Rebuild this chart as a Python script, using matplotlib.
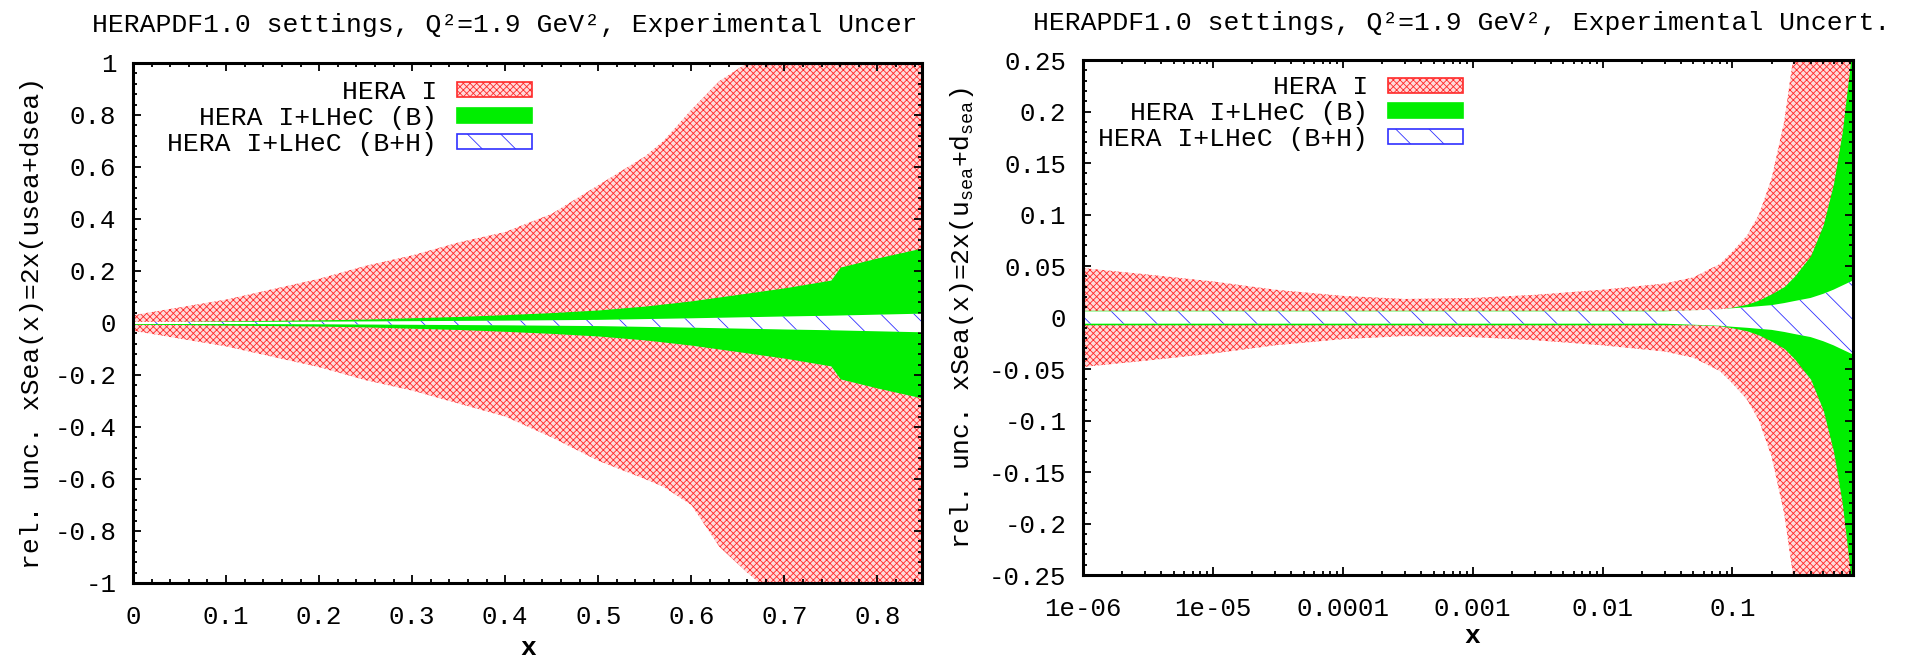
import matplotlib
matplotlib.use('Agg')
import matplotlib.pyplot as plt
from matplotlib.patches import Patch
from matplotlib.ticker import MultipleLocator, LogLocator, NullFormatter

plt.rcParams['font.family'] = ['Liberation Mono', 'DejaVu Sans Mono']
plt.rcParams['mathtext.fontset'] = 'custom'
plt.rcParams['mathtext.rm'] = 'Liberation Mono'
plt.rcParams['mathtext.it'] = 'Liberation Mono'
plt.rcParams['hatch.linewidth'] = 0.6

# ---- left panel: linear x ----
x_lin = [0, 0.05, 0.1, 0.15, 0.2, 0.25, 0.3, 0.35, 0.4, 0.45, 0.5, 0.55,
         0.57, 0.6, 0.63, 0.66, 0.68, 0.7, 0.75, 0.8, 0.85]
hera_up_lin = [0.03, 0.06, 0.09, 0.13, 0.17, 0.22, 0.26, 0.31, 0.35, 0.42, 0.53, 0.64,
               0.70, 0.82, 0.93, 1.0, 1.1, 1.2, 1.4, 1.6, 1.8]
hera_lo_lin = [-0.03, -0.06, -0.09, -0.13, -0.17, -0.22, -0.26, -0.31, -0.36, -0.44, -0.53, -0.6,
               -0.63, -0.7, -0.86, -0.96, -1.02, -1.1, -1.3, -1.5, -1.7]

x_lin_b = [0, 0.05, 0.1, 0.15, 0.2, 0.25, 0.3, 0.35, 0.4, 0.45, 0.5, 0.55,
           0.6, 0.65, 0.7, 0.75, 0.76, 0.8, 0.85]
lhec_b_lin = [0.005, 0.006, 0.008, 0.01, 0.012, 0.015, 0.02, 0.025, 0.032, 0.04, 0.05, 0.065,
              0.085, 0.11, 0.135, 0.165, 0.215, 0.25, 0.29]

x_lin_bh = [0, 0.1, 0.2, 0.3, 0.4, 0.5, 0.6, 0.7, 0.75, 0.8, 0.85]
lhec_bh_lin = [0.004, 0.004, 0.005, 0.007, 0.009, 0.012, 0.018, 0.025, 0.028, 0.032, 0.036]

# ---- right panel: log x ----
x_log = [1e-6, 3e-6, 1e-5, 3e-5, 1e-4, 3e-4, 1e-3, 3e-3, 1e-2, 3e-2, 0.05, 0.08,
         0.1, 0.13, 0.16, 0.2, 0.25, 0.3, 0.4, 0.5, 0.6, 0.7, 0.85]
hera_up_log = [0.048, 0.042, 0.035, 0.027, 0.021, 0.018, 0.019, 0.022, 0.027, 0.033, 0.039, 0.052,
               0.064, 0.08, 0.1, 0.135, 0.19, 0.26, 0.4, 0.5, 0.6, 0.7, 0.8]
hera_lo_log = [-0.048, -0.042, -0.035, -0.027, -0.021, -0.018, -0.019, -0.022, -0.027, -0.033, -0.039, -0.052,
               -0.064, -0.08, -0.1, -0.135, -0.19, -0.26, -0.4, -0.5, -0.6, -0.7, -0.8]
lhec_b_log = [0.007, 0.007, 0.007, 0.007, 0.007, 0.007, 0.007, 0.007, 0.007, 0.007, 0.007, 0.008,
              0.01, 0.013, 0.017, 0.023, 0.03, 0.04, 0.06, 0.09, 0.13, 0.18, 0.27]
lhec_bh_log = [0.006, 0.006, 0.006, 0.006, 0.006, 0.006, 0.006, 0.006, 0.006, 0.006, 0.007, 0.008,
               0.009, 0.01, 0.011, 0.012, 0.014, 0.016, 0.019, 0.023, 0.027, 0.031, 0.036]

labels = ['HERA I', 'HERA I+LHeC (B)', 'HERA I+LHeC (B+H)']
lin_yticks = [-1, -0.8, -0.6, -0.4, -0.2, 0, 0.2, 0.4, 0.6, 0.8, 1]
lin_yticklabels = ['-1', '-0.8', '-0.6', '-0.4', '-0.2', '0', '0.2', '0.4', '0.6', '0.8', '1']
lin_xticks = [0, 0.1, 0.2, 0.3, 0.4, 0.5, 0.6, 0.7, 0.8]
lin_xticklabels = ['0', '0.1', '0.2', '0.3', '0.4', '0.5', '0.6', '0.7', '0.8']
log_yticks = [-0.25, -0.2, -0.15, -0.1, -0.05, 0, 0.05, 0.1, 0.15, 0.2, 0.25]
log_yticklabels = ['-0.25', '-0.2', '-0.15', '-0.1', '-0.05', '0', '0.05', '0.1', '0.15', '0.2', '0.25']
log_xticks = [1e-6, 1e-5, 1e-4, 1e-3, 1e-2, 1e-1]
log_xticklabels = ['1e-06', '1e-05', '0.0001', '0.001', '0.01', '0.1']

RED = '#ff2a2a'
RED_FACE = '#ffdada'
GREEN = '#00ee00'
BLUE = '#3030ff'

fig = plt.figure(figsize=(19.17, 6.63), dpi=100)
ax1 = fig.add_axes([0.0694, 0.1207, 0.4116, 0.7843])
ax2 = fig.add_axes([0.565, 0.1327, 0.4017, 0.7768])


def draw_bands(ax, xh, up, lo, xb, b, xbh, bh):
    ax.fill_between(xh, lo, up, facecolor=RED_FACE, edgecolor=RED, hatch='xxxxx', linewidth=0, zorder=1)
    ax.fill_between(xb, [-v for v in b], b, facecolor=GREEN, edgecolor=GREEN, linewidth=0, zorder=2)
    ax.fill_between(xbh, [-v for v in bh], bh, facecolor='white', edgecolor=BLUE, hatch='\\', linewidth=0, zorder=3)


draw_bands(ax1, x_lin, hera_up_lin, hera_lo_lin, x_lin_b, lhec_b_lin, x_lin_bh, lhec_bh_lin)
draw_bands(ax2, x_log, hera_up_log, hera_lo_log, x_log, lhec_b_log, x_log, lhec_bh_log)

ax1.set_xlim(0, 0.848)
ax1.set_ylim(-1, 1)
ax1.set_xticks(lin_xticks, lin_xticklabels)
ax1.set_yticks(lin_yticks, lin_yticklabels)
ax1.xaxis.set_minor_locator(MultipleLocator(0.02))
ax1.yaxis.set_minor_locator(MultipleLocator(0.04))

ax2.set_xscale('log')
ax2.set_xlim(1e-6, 0.85)
ax2.set_ylim(-0.25, 0.25)
ax2.set_xticks(log_xticks, log_xticklabels)
ax2.xaxis.set_minor_locator(LogLocator(base=10, subs=range(2, 10), numticks=20))
ax2.xaxis.set_minor_formatter(NullFormatter())
ax2.set_yticks(log_yticks, log_yticklabels)
ax2.yaxis.set_minor_locator(MultipleLocator(0.01))

for ax in (ax1, ax2):
    for s in ax.spines.values():
        s.set_linewidth(2.2)
        s.set_zorder(5)
    ax.tick_params(which='both', direction='in', top=True, right=True, width=1.3, labelsize=18.5)
    ax.tick_params(which='major', length=6)
    ax.tick_params(which='minor', length=2.8)
    ax.tick_params(axis='x', pad=16)
    ax.tick_params(axis='y', pad=12)
    ax.set_axisbelow(False)

handles = [Patch(facecolor=RED_FACE, edgecolor=RED, hatch='xxxxx', linewidth=1.2),
           Patch(facecolor=GREEN, edgecolor=GREEN, linewidth=1.2),
           Patch(facecolor='white', edgecolor=BLUE, hatch='\\', linewidth=1.2)]

leg_kw = dict(markerfirst=False, frameon=False, fontsize=19, handlelength=2.84, handleheight=0.5,
              handletextpad=0.76, labelspacing=0.07, borderpad=0, borderaxespad=0, loc='upper right')
ax1.legend(handles, labels, bbox_to_anchor=(0.506, 0.967), **leg_kw).set_zorder(6)
ax2.legend(handles, labels, bbox_to_anchor=(0.4935, 0.97), **leg_kw).set_zorder(6)

fig.text(0.048, 0.962, 'HERAPDF1.0 settings, Q²=1.9 GeV², Experimental Uncer',
         fontsize=19, ha='left', va='center')
fig.text(0.539, 0.966, 'HERAPDF1.0 settings, Q²=1.9 GeV², Experimental Uncert.',
         fontsize=19, ha='left', va='center')
fig.text(0.0167, 0.513, 'rel. unc. xSea(x)=2x(usea+dsea)', fontsize=19,
         rotation=90, ha='center', va='center')
fig.text(0.502, 0.52, r'rel. unc. xSea(x)=2x(u$_{\mathrm{sea}}$+d$_{\mathrm{sea}}$)', fontsize=19,
         rotation=90, ha='center', va='center')
fig.text(0.2755, 0.023, 'x', fontsize=19, fontweight='bold', ha='center', va='center')
fig.text(0.768, 0.04, 'x', fontsize=19, fontweight='bold', ha='center', va='center')

fig.savefig('out.png', dpi=100)
